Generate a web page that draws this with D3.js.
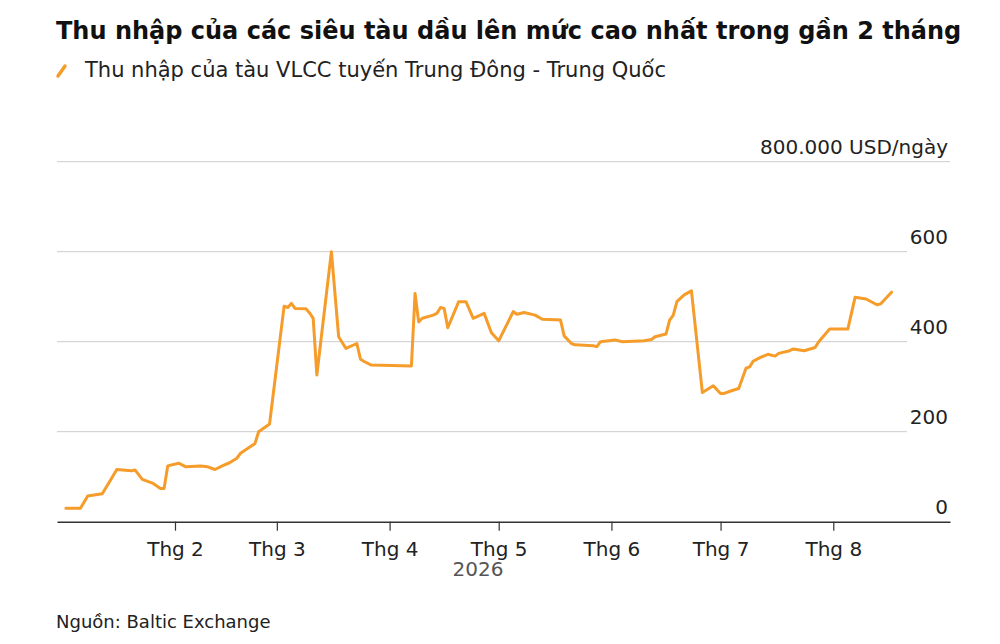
<!DOCTYPE html>
<html>
<head>
<meta charset="utf-8">
<script src="https://cdn.jsdelivr.net/npm/d3@7"></script>
<style>
  body { margin: 0; background: #fff; }
  svg { display: block; font-family: "DejaVu Sans", sans-serif; }
</style>
</head>
<body>
<div id="chart"></div>
<script>
// daily earnings, VLCC Middle East - China route (thousand USD/day)
const dates = [
  "2026-01-02", "2026-01-06", "2026-01-08", "2026-01-12", "2026-01-14", "2026-01-16",
  "2026-01-20", "2026-01-21", "2026-01-23", "2026-01-26", "2026-01-28", "2026-01-29",
  "2026-01-30", "2026-02-02", "2026-02-04", "2026-02-08", "2026-02-10", "2026-02-12",
  "2026-02-14", "2026-02-16", "2026-02-18", "2026-02-19", "2026-02-23", "2026-02-24",
  "2026-02-27", "2026-03-03", "2026-03-04", "2026-03-05", "2026-03-06", "2026-03-09",
  "2026-03-10", "2026-03-11", "2026-03-12", "2026-03-16", "2026-03-18", "2026-03-20",
  "2026-03-23", "2026-03-24", "2026-03-25", "2026-03-27", "2026-04-07", "2026-04-08",
  "2026-04-09", "2026-04-10", "2026-04-13", "2026-04-14", "2026-04-15", "2026-04-16",
  "2026-04-17", "2026-04-20", "2026-04-22", "2026-04-24", "2026-04-27", "2026-04-29",
  "2026-05-01", "2026-05-05", "2026-05-06", "2026-05-08", "2026-05-11", "2026-05-13",
  "2026-05-18", "2026-05-19", "2026-05-21", "2026-05-22", "2026-05-27", "2026-05-28",
  "2026-05-29", "2026-06-02", "2026-06-04", "2026-06-10", "2026-06-12", "2026-06-13",
  "2026-06-16", "2026-06-17", "2026-06-18", "2026-06-19", "2026-06-21", "2026-06-23",
  "2026-06-26", "2026-06-29", "2026-07-01", "2026-07-02", "2026-07-04", "2026-07-06",
  "2026-07-08", "2026-07-09", "2026-07-10", "2026-07-12", "2026-07-14", "2026-07-16",
  "2026-07-17", "2026-07-20", "2026-07-21", "2026-07-24", "2026-07-27", "2026-07-28",
  "2026-07-31", "2026-08-05", "2026-08-07", "2026-08-10", "2026-08-13", "2026-08-14",
  "2026-08-17"
];
const earnings = [
  30, 30, 57, 62, 89, 116,
  113, 115, 94, 85, 74, 74,
  124, 130, 122, 124, 122, 116,
  124, 131, 141, 152, 174, 200,
  217, 479, 476, 485, 474, 473,
  464, 452, 326, 600, 411, 385,
  396, 361, 356, 348, 346, 507,
  444, 452, 459, 463, 476, 474,
  431, 489, 489, 452, 463, 420,
  402, 467, 461, 465, 459, 450,
  448, 413, 396, 393, 391, 389,
  400, 404, 400, 402, 405, 411,
  417, 448, 459, 489, 504, 513,
  287, 302, 285, 285, 291, 296,
  341, 344, 357, 365, 372, 368,
  374, 380, 384, 380, 387, 400,
  428, 428, 499, 495, 482, 484,
  510
];
const yTicks = [0, 200, 400, 600, 800];
const monthTicks = ["2026-02-01", "2026-03-01", "2026-04-01", "2026-05-01", "2026-06-01", "2026-07-01", "2026-08-01"];
const monthLabels = ["Thg 2", "Thg 3", "Thg 4", "Thg 5", "Thg 6", "Thg 7", "Thg 8"];

const title = "Thu nhập của các siêu tàu dầu lên mức cao nhất trong gần 2 tháng";
const legendLabel = "Thu nhập của tàu VLCC tuyến Trung Đông - Trung Quốc";
const source = "Nguồn: Baltic Exchange";

const parse = d3.utcParse("%Y-%m-%d");
const data = dates.map((d, i) => ({ date: parse(d), value: earnings[i] }));

const width = 1000, height = 644;
const lineColor = "#f59c2a";

// Feb 1 sits at 175px and Aug 1 at 833px; extend that so the axis runs 57..950
const x0 = d3.scaleUtc()
    .domain([parse("2026-02-01"), parse("2026-08-01")])
    .range([175, 833.3]);
const x = d3.scaleUtc()
    .domain([x0.invert(57), x0.invert(950)])
    .range([57, 950]);

const y = d3.scaleLinear().domain([0, 800]).range([521.7, 161.7]);

const svg = d3.select("#chart").append("svg")
    .attr("width", width)
    .attr("height", height);

// title + legend
svg.append("text")
    .attr("x", 56).attr("y", 39)
    .attr("font-size", 24).attr("font-weight", "bold").attr("fill", "#111")
    .text(title);

svg.append("line")
    .attr("x1", 58).attr("y1", 76).attr("x2", 65).attr("y2", 66)
    .attr("stroke", lineColor).attr("stroke-width", 3.5).attr("stroke-linecap", "round");

svg.append("text")
    .attr("x", 85).attr("y", 77)
    .attr("font-size", 21).attr("fill", "#222")
    .text(legendLabel);

// gridlines: top one runs the full width, others stop before the labels
const grid = svg.append("g");
grid.selectAll("line")
    .data(yTicks.filter(d => d > 0))
    .join("line")
    .attr("x1", 57)
    .attr("x2", d => d === 800 ? 950 : 907)
    .attr("y1", d => y(d)).attr("y2", d => y(d))
    .attr("stroke", "#cccccc").attr("stroke-width", 1);

grid.selectAll("text")
    .data(yTicks)
    .join("text")
    .attr("x", 948)
    .attr("y", d => y(d) - 8)
    .attr("text-anchor", "end")
    .attr("font-size", 20).attr("fill", "#222")
    .text(d => d === 800 ? "800.000 USD/ngày" : d);

// x axis
const xAxis = d3.axisBottom(x)
    .tickValues(monthTicks.map(parse))
    .tickFormat((d, i) => monthLabels[i])
    .tickSize(9)
    .tickSizeOuter(0);

const gx = svg.append("g")
    .attr("transform", `translate(0,${y(0)})`)
    .call(xAxis);
gx.select(".domain").attr("stroke", "#333").attr("stroke-width", 1.5);
gx.selectAll(".tick line").attr("stroke", "#333").attr("stroke-width", 1.2);
gx.selectAll(".tick text")
    .attr("font-family", "DejaVu Sans, sans-serif")
    .attr("font-size", 20).attr("fill", "#222").attr("dy", "1.1em");

svg.append("text")
    .attr("x", 478).attr("y", 576)
    .attr("text-anchor", "middle")
    .attr("font-size", 20).attr("fill", "#555")
    .text("2026");

// the line
const line = d3.line()
    .x(d => x(d.date))
    .y(d => y(d.value));

svg.append("path")
    .datum(data)
    .attr("fill", "none")
    .attr("stroke", lineColor)
    .attr("stroke-width", 3)
    .attr("stroke-linejoin", "round")
    .attr("stroke-linecap", "round")
    .attr("d", line);

svg.append("text")
    .attr("x", 56).attr("y", 628)
    .attr("font-size", 18).attr("fill", "#222")
    .text(source);
</script>
</body>
</html>
